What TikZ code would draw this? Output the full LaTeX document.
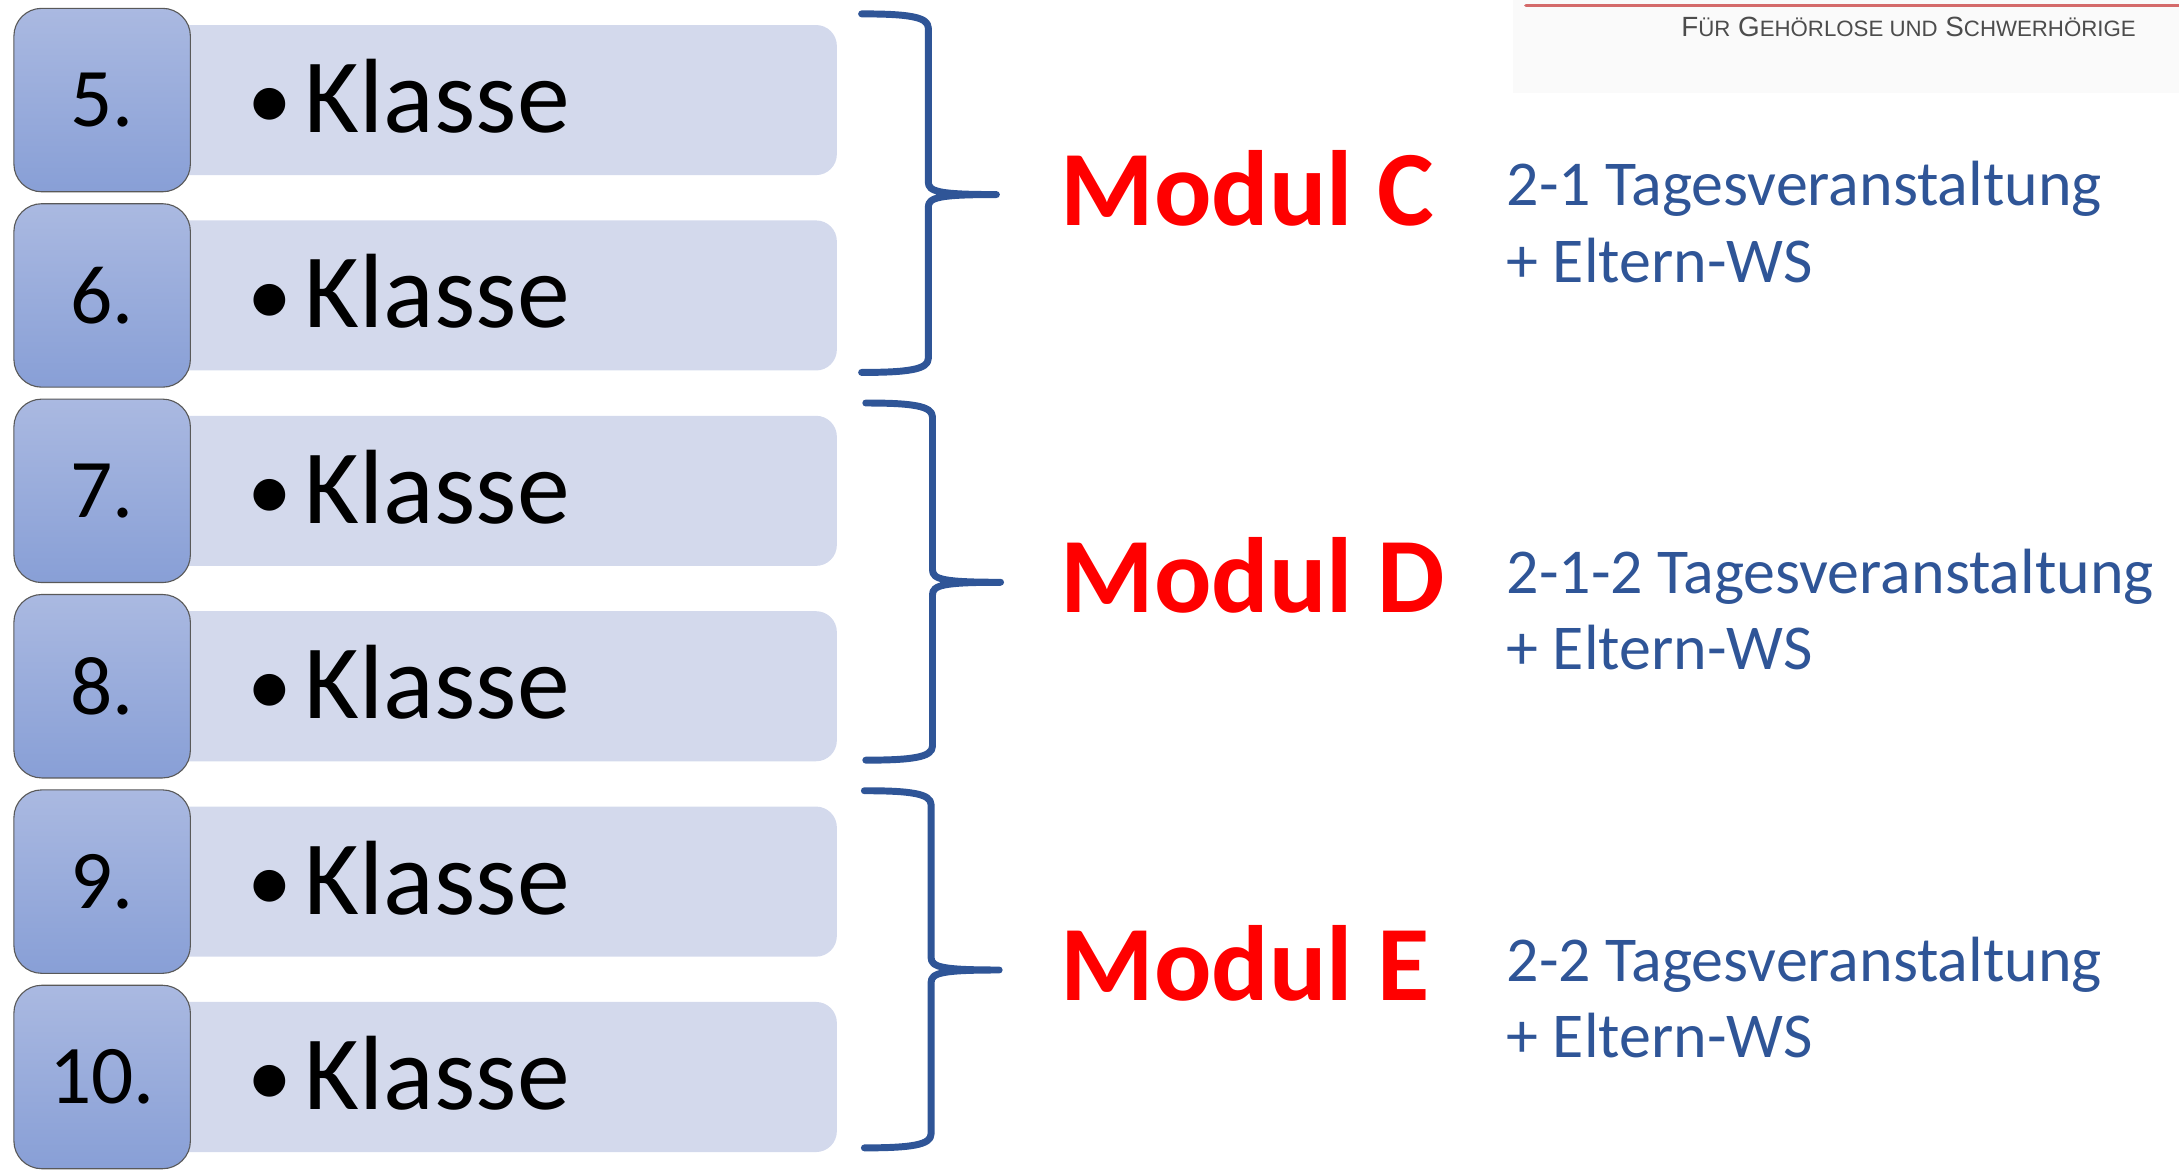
\documentclass[tikz,border=0pt]{standalone}
\usepackage{fontspec}
\setmainfont{Carlito}
\newfontfamily\headfont{Liberation Sans}
\definecolor{numtop}{HTML}{AAB9E1}
\definecolor{numbot}{HTML}{889FD6}
\definecolor{rowfill}{HTML}{D3D9EC}
\definecolor{bracecol}{HTML}{2F5597}
\definecolor{headline}{HTML}{D46A6A}
\newcommand\klein[1]{{\fontsize{16}{19}\selectfont #1}}
\tikzset{
 numbox/.style={draw=black!65, line width=0.8pt, rounded corners=20pt, top color=numtop, bottom color=numbot,
   minimum width=127pt, minimum height=132pt, inner sep=0pt, font=\fontsize{60}{72}\selectfont},
 rowbox/.style={fill=rowfill, rounded corners=15pt, minimum width=482pt, minimum height=108pt, text width=366pt,
   inner xsep=58pt, inner ysep=0pt, text depth=6pt, align=left, anchor=west, font=\fontsize{76}{90}\selectfont},
 modul/.style={anchor=base west, inner sep=0pt, text=red, font=\bfseries\fontsize{77}{92}\selectfont},
 info/.style={anchor=base west, inner sep=0pt, align=left, text=bracecol, font=\fontsize{46}{55}\selectfont},
 klammer/.style={draw=bracecol, line width=5pt, line join=round}
}
\begin{document}
\begin{tikzpicture}[x=1pt, y=-1pt, line cap=round]
 \useasboundingbox (0,0) rectangle (1568,843);
 \fill[black!2] (1089,0) rectangle (1568,67);
 \draw[headline, line width=2.5pt] (1098,4) -- (1568,4);
 \node[anchor=base east, inner sep=0pt, text=black!70, font=\headfont\fontsize{20}{24}\selectfont] (kopf) at (1537,26)
   {F\klein{ÜR} G\klein{EHÖRLOSE UND} S\klein{CHWERHÖRIGE}};
 \foreach \n [count=\i from 0] in {5,...,10}{
  \node[rowbox] (k\n) at (120,72+140.6*\i) {\raisebox{2pt}{\scalebox{0.85}{\textbullet}}\hspace{9pt}Klasse};
  \node[numbox] (n\n) at (73.5,72+140.6*\i) {\n.};
 }
 \foreach \t/\m/\b/\x/\name/\txt in {10/140/268/668/C/2-1, 290/419/547/671/D/2-1-2, 569/698/826/670/E/2-2}{
  \coordinate (tip\name) at (\x+49,\m);
  \draw[klammer] (\x-48,\t) .. controls (\x-15,\t) and (\x,\t+2) .. (\x,\t+10) -- (\x,\m-9)
    .. controls (\x,\m-2) and (\x+8,\m) .. (tip\name) .. controls (\x+8,\m) and (\x,\m+2) .. (\x,\m+9)
    -- (\x,\b-10) .. controls (\x,\b-2) and (\x-15,\b) .. (\x-48,\b);
  \node[modul] (mod\name) at (763,\m+22) {Modul \name};
  \node[info] (info\name) at (1084,\m+63) {\txt\ Tagesveranstaltung\\+ Eltern-WS};
 }
\end{tikzpicture}
\end{document}
